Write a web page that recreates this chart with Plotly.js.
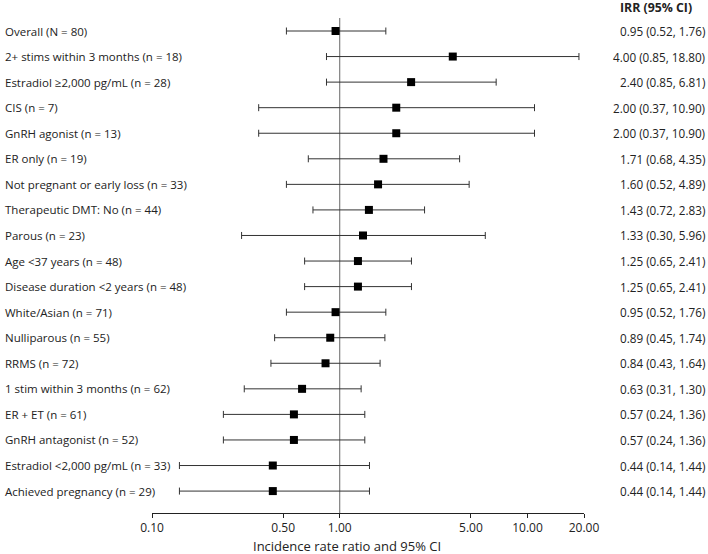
<!DOCTYPE html>
<html>
<head>
<meta charset="utf-8">
<script src="https://cdn.plot.ly/plotly-3.0.1.min.js"></script>
<style>
  html, body { margin: 0; padding: 0; background: #fff; }
  #chart { width: 708px; height: 554px; }
</style>
</head>
<body>
<div id="chart"></div>
<script>
const labels = [
  "Overall (N = 80)",
  "2+ stims within 3 months (n = 18)",
  "Estradiol \u22652,000 pg/mL (n = 28)",
  "CIS (n = 7)",
  "GnRH agonist (n = 13)",
  "ER only (n = 19)",
  "Not pregnant or early loss (n = 33)",
  "Therapeutic DMT: No (n = 44)",
  "Parous (n = 23)",
  "Age <37 years (n = 48)",
  "Disease duration <2 years (n = 48)",
  "White/Asian (n = 71)",
  "Nulliparous (n = 55)",
  "RRMS (n = 72)",
  "1 stim within 3 months (n = 62)",
  "ER + ET (n = 61)",
  "GnRH antagonist (n = 52)",
  "Estradiol <2,000 pg/mL (n = 33)",
  "Achieved pregnancy (n = 29)"
];
const irr = [0.95, 4.00, 2.40, 2.00, 2.00, 1.71, 1.60, 1.43, 1.33, 1.25, 1.25, 0.95, 0.89, 0.84, 0.63, 0.57, 0.57, 0.44, 0.44];
const ciLow = [0.52, 0.85, 0.85, 0.37, 0.37, 0.68, 0.52, 0.72, 0.30, 0.65, 0.65, 0.52, 0.45, 0.43, 0.31, 0.24, 0.24, 0.14, 0.14];
const ciHigh = [1.76, 18.80, 6.81, 10.90, 10.90, 4.35, 4.89, 2.83, 5.96, 2.41, 2.41, 1.76, 1.74, 1.64, 1.30, 1.36, 1.36, 1.44, 1.44];
const tickVals = [0.1, 0.5, 1, 5, 10, 20];
const tickText = ["0.10", "0.50", "1.00", "5.00", "10.00", "20.00"];
const headerText = "IRR (95% CI)";
const xTitle = "Incidence rate ratio and 95% CI";

const FONT = "Open Sans, Noto Sans, sans-serif";
const TXT = "#222";
const W = 708, H = 554;
const mL = 152, mR = 124, mT = 18, mB = 41;
const pw = W - mL - mR, ph = H - mT - mB;

const trace = {
  type: "scatter",
  mode: "markers",
  x: irr,
  y: labels,
  marker: { symbol: "square", size: 8, color: "#000" },
  error_x: {
    type: "data",
    symmetric: false,
    array: irr.map((v, i) => ciHigh[i] - v),
    arrayminus: irr.map((v, i) => v - ciLow[i]),
    color: "#333",
    thickness: 1,
    width: 3.5
  },
  hoverinfo: "skip",
  showlegend: false
};

const annotations = [];
labels.forEach((lab, i) => {
  annotations.push({
    text: lab, xref: "paper", yref: "y", x: (3 - mL) / pw, y: lab,
    xanchor: "left", yanchor: "middle", showarrow: false,
    font: { family: FONT, size: 11.5, color: TXT }
  });
  annotations.push({
    text: irr[i].toFixed(2) + " (" + ciLow[i].toFixed(2) + ", " + ciHigh[i].toFixed(2) + ")",
    xref: "paper", yref: "y", x: (707 - mL) / pw, y: lab,
    xanchor: "right", yanchor: "middle", showarrow: false,
    font: { family: FONT, size: 11.7, color: TXT }
  });
});
annotations.push({
  text: "<b>" + headerText + "</b>", xref: "paper", yref: "paper",
  x: (656 - mL) / pw, y: 1 + (mT - 7) / ph, xanchor: "center", yanchor: "middle",
  showarrow: false, font: { family: FONT, size: 12.3, color: TXT }
});
annotations.push({
  text: xTitle, xref: "paper", yref: "paper",
  x: (347 - mL) / pw, y: -(546 - (mT + ph)) / ph, xanchor: "center", yanchor: "middle",
  showarrow: false, font: { family: FONT, size: 13, color: TXT }
});

const rowPitch = 25.56;
const firstRowPx = 31;
const layout = {
  width: W, height: H,
  margin: { l: mL, r: mR, t: mT, b: mB, pad: 0 },
  paper_bgcolor: "#fff", plot_bgcolor: "#fff",
  font: { family: FONT, size: 12, color: TXT },
  xaxis: {
    type: "log",
    range: [Math.log10(0.1), Math.log10(20)],
    tickvals: tickVals, ticktext: tickText,
    showgrid: false, zeroline: false,
    showline: true, linecolor: "#222", linewidth: 1,
    ticks: "outside", ticklen: 4, tickcolor: "#222",
    tickfont: { family: FONT, size: 12, color: TXT }
  },
  yaxis: {
    type: "category",
    categoryorder: "array", categoryarray: labels,
    range: [(mT + ph - firstRowPx) / rowPitch, (mT - firstRowPx) / rowPitch],
    showticklabels: false, showgrid: false, zeroline: false, showline: false, ticks: ""
  },
  shapes: [{
    type: "line", xref: "x", yref: "paper", x0: 1, x1: 1, y0: 0, y1: 1,
    line: { color: "#666", width: 1 }, layer: "below"
  }],
  annotations: annotations
};

Plotly.newPlot("chart", [trace], layout, { staticPlot: true, displayModeBar: false });
</script>
</body>
</html>
